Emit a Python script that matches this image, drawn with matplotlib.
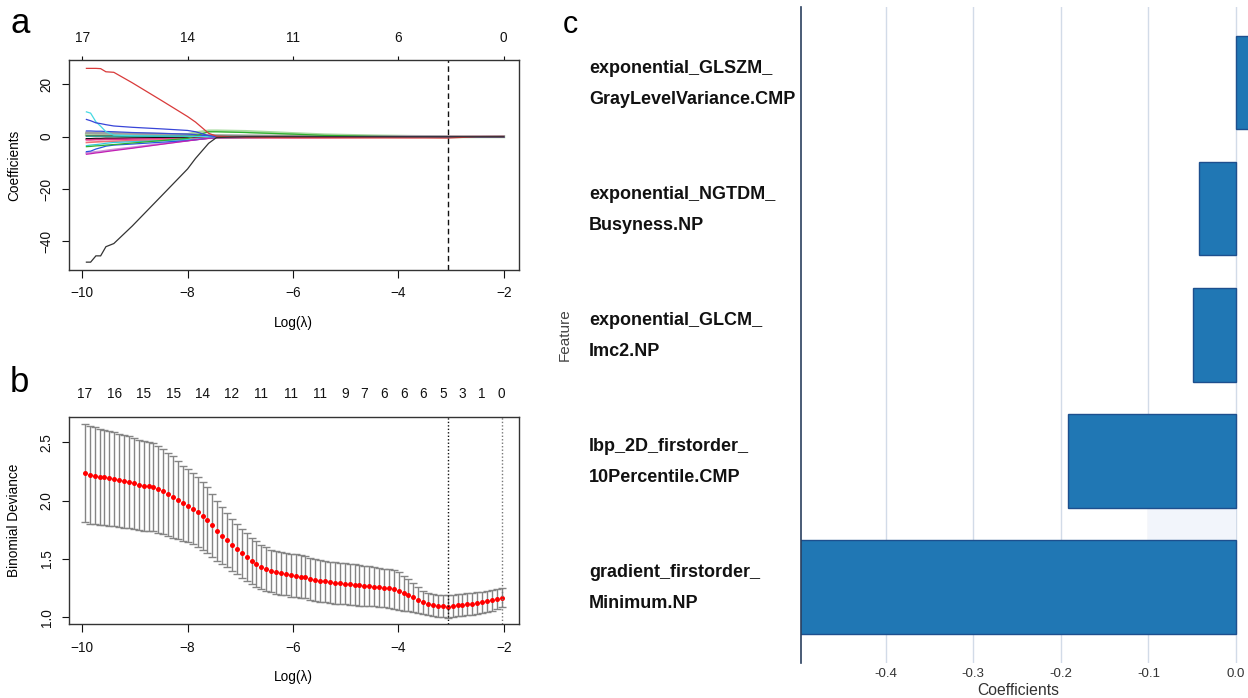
import numpy as np
import matplotlib
matplotlib.use("Agg")
import matplotlib.pyplot as plt
from matplotlib.patches import Rectangle
from matplotlib.transforms import blended_transform_factory, offset_copy

plt.rcParams['font.family'] = ['Liberation Sans', 'DejaVu Sans']

# ---------------- panel a: lasso coefficient paths ----------------
path_knots = [-9.92, -9.84, -9.74, -9.65, -9.55, -9.40, -9.05, -8.50, -8.00, -7.85,
              -7.60, -7.45, -6.90, -6.00, -5.40, -4.50, -3.70, -3.06, -2.50, -2.00]

coef_black_big = [-47.9, -47.9, -45.5, -45.5, -42.0, -40.8, -34.1, -22.7, -12.3, -8.3,
                  -2.5, -0.3, 0, 0, 0, 0, 0, 0, 0, 0]
coef_red_big = [26.1, 26.1, 26.1, 26.0, 24.8, 24.6, 20.6, 13.9, 7.7, 5.6,
                1.3, 0.2, -0.2, -0.3, -0.35, -0.4, -0.45, -0.5, 0, 0]
coef_green = [-3.8, -3.7, -3.5, -3.4, -3.2, -3.0, -2.4, -1.5, -0.6, 0.3,
              1.9, 1.9, 1.6, 1.0, 0.5, 0.2, 0, 0, 0, 0]
coef_blue_up = [6.6, 6.1, 5.3, 5.0, 4.6, 4.1, 3.6, 3.0, 2.4, 1.9,
                0.4, 0, 0, 0, 0, 0, 0, 0, 0, 0]
coef_cyan_up = [9.5, 9.0, 5.7, 4.0, 1.9, 0.6, 0.4, 0.3, 0.2, 0.1,
                0, 0, 0, 0, 0, 0, 0, 0, 0, 0]
coef_magenta = [-6.7, -6.5, -6.2, -6.0, -5.7, -5.3, -4.4, -2.9, -1.6, -1.2,
                -0.6, -0.4, -0.3, -0.2, 0, 0, 0, 0, 0, 0]
coef_plum = [-6.2, -6.0, -5.8, -5.6, -5.3, -4.9, -4.1, -2.7, -1.4, -1.0,
             -0.5, -0.3, -0.2, -0.1, -0.1, 0, 0, 0, 0, 0]
coef_blue_low = [-5.7, -5.5, -4.7, -4.2, -3.6, -3.2, -2.8, -2.1, -1.5, -1.2,
                 -0.6, -0.2, 0, 0, 0, 0, 0, 0, 0, 0]
coef_cyan_low = [-3.4, -3.2, -3.0, -2.8, -2.5, -2.2, -1.9, -1.5, -1.1, -0.9,
                 -0.5, -0.4, -0.3, -0.2, 0, 0, 0, 0, 0, 0]
coef_salmon = [-2.2, -2.1, -2.0, -1.9, -1.8, -1.7, -1.5, -1.2, -0.9, -0.8,
               -0.6, -0.5, -0.4, -0.35, -0.3, -0.3, -0.25, 0, 0, 0]
coef_palegreen = [0.8, 0.8, 0.7, 0.7, 0.6, 0.6, 0.5, 0.4, 0.8, 1.5,
                  2.2, 2.2, 2.0, 1.2, 0.7, 0.3, 0.1, 0, 0, 0]
coef_gray = [1.5, 1.5, 1.4, 1.4, 1.3, 1.3, 1.2, 1.0, 0.8, 0.7,
             0.6, 0.5, 0.4, 0.3, 0.25, 0.2, 0.1, 0.05, 0, 0]
coef_black_small = [-0.8, -0.8, -0.7, -0.7, -0.6, -0.6, -0.5, -0.4, -0.3, -0.3,
                    -0.2, -0.2, -0.15, -0.1, -0.1, -0.1, -0.1, -0.1, -0.05, 0]
coef_brown = [0.4, 0.4, 0.4, 0.4, 0.35, 0.35, 0.3, 0.3, 0.25, 0.2,
              0.2, 0.15, 0.1, 0.1, 0.05, 0, 0, 0, 0, 0]
coef_hotpink = [-1.2, -1.2, -1.1, -1.1, -1.0, -1.0, -0.9, -0.8, -0.7, -0.6,
                -0.5, -0.5, -0.4, -0.4, -0.35, -0.2, -0.1, -0.1, 0, 0]
coef_blue2 = [2.2, 2.2, 2.1, 2.1, 2.0, 1.9, 1.6, 1.3, 1.0, 0.8,
              0.2, 0, 0, 0, 0, 0, 0, 0, 0, 0]
coef_teal = [0.2, 0.2, 0.2, 0.2, 0.2, 0.2, 0.15, 0.15, 0.1, 0.1,
             0.1, 0.1, 0.05, 0.05, 0, 0, 0, 0, 0, 0]

path_list = [
    (coef_palegreen, '#a9dba0', 2.2),
    (coef_gray, '#a0a0a0', 1.8),
    (coef_plum, '#cc8fd6', 1.4),
    (coef_brown, '#8a5a3a', 1.0),
    (coef_teal, '#1fa595', 1.0),
    (coef_black_small, '#111111', 1.2),
    (coef_hotpink, '#e2338c', 1.2),
    (coef_salmon, '#ef6f7a', 1.2),
    (coef_cyan_low, '#33c9dd', 0.9),
    (coef_blue_low, '#2a55e0', 0.9),
    (coef_magenta, '#c21fb4', 0.9),
    (coef_blue2, '#3a4fd6', 0.9),
    (coef_green, '#2fb02f', 0.9),
    (coef_cyan_up, '#45d9e2', 0.9),
    (coef_blue_up, '#3845d8', 0.9),
    (coef_red_big, '#d93a3a', 0.9),
    (coef_black_big, '#333333', 0.9),
]

a_top_pos = [-10, -8, -6, -4, -2]
a_top_labels = ['17', '14', '11', '6', '0']
a_lambda_min = -3.06

# ---------------- panel b: cross-validation curve ----------------
cv_start, cv_end, cv_n = -9.95, -2.04, 86
cv_mean = [2.234, 2.222, 2.213, 2.205, 2.200, 2.191, 2.185, 2.174, 2.165, 2.157,
           2.148, 2.136, 2.128, 2.123, 2.114, 2.097, 2.080, 2.054, 2.031, 2.005,
           1.979, 1.956, 1.931, 1.905, 1.868, 1.831, 1.791, 1.742, 1.699, 1.662,
           1.620, 1.583, 1.548, 1.517, 1.485, 1.457, 1.434, 1.414, 1.397, 1.386,
           1.377, 1.371, 1.362, 1.356, 1.348, 1.343, 1.331, 1.322, 1.314, 1.308,
           1.300, 1.294, 1.291, 1.288, 1.283, 1.279, 1.274, 1.271, 1.266, 1.262,
           1.257, 1.251, 1.248, 1.242, 1.225, 1.205, 1.188, 1.171, 1.148, 1.128,
           1.114, 1.105, 1.099, 1.094, 1.091, 1.097, 1.103, 1.108, 1.114, 1.117,
           1.123, 1.128, 1.137, 1.146, 1.157, 1.168]
cv_se = [0.420, 0.418, 0.415, 0.412, 0.409, 0.406, 0.403, 0.400, 0.397, 0.394,
         0.391, 0.388, 0.385, 0.382, 0.378, 0.373, 0.366, 0.358, 0.348, 0.336,
         0.322, 0.312, 0.304, 0.298, 0.292, 0.282, 0.270, 0.258, 0.246, 0.230,
         0.221, 0.213, 0.210, 0.204, 0.196, 0.193, 0.189, 0.187, 0.184, 0.183,
         0.183, 0.183, 0.184, 0.184, 0.183, 0.181, 0.181, 0.180, 0.180, 0.179,
         0.177, 0.177, 0.177, 0.177, 0.176, 0.174, 0.174, 0.171, 0.170, 0.168,
         0.167, 0.166, 0.167, 0.167, 0.164, 0.147, 0.137, 0.123, 0.110, 0.100,
         0.096, 0.094, 0.093, 0.093, 0.096, 0.094, 0.094, 0.094, 0.094, 0.094,
         0.094, 0.093, 0.091, 0.091, 0.089, 0.083]
b_top_idx = [0, 6, 12, 18, 24, 30, 36, 42, 48, 53, 57, 61, 65, 69, 73, 77, 81, 85]
b_top_labels = ['17', '16', '15', '15', '14', '12', '11', '11', '11',
                '9', '7', '6', '6', '6', '5', '3', '1', '0']

# ---------------- panel c: selected features ----------------
feat_names = ['exponential_GLSZM_\nGrayLevelVariance.CMP',
              'exponential_NGTDM_\nBusyness.NP',
              'exponential_GLCM_\nImc2.NP',
              'lbp_2D_firstorder_\n10Percentile.CMP',
              'gradient_firstorder_\nMinimum.NP']
feat_coef = [0.03, -0.0424, -0.0491, -0.192, -0.52]

# ---------------- figure ----------------
W, H = 1248, 698
fig = plt.figure(figsize=(W / 100, H / 100), dpi=100)


def px_axes(left, top, right, bottom):
    return fig.add_axes([left / W, 1 - bottom / H, (right - left) / W, (bottom - top) / H])


def r_style(ax):
    for s in ax.spines.values():
        s.set_color('#333333')
        s.set_linewidth(1.0)
    ax.tick_params(axis='both', direction='out', length=5.4, width=0.8,
                   labelsize=9.8, colors='#111111')
    ax.tick_params(axis='x', pad=6.3)
    ax.tick_params(axis='y', pad=5.3)
    for lab in ax.get_yticklabels():
        lab.set_rotation(90)
        lab.set_va('center')


# panel a
ax_a = px_axes(68.5, 60, 518.5, 270)
for vals, col, lw in path_list:
    ax_a.plot(path_knots, vals, color=col, lw=lw, solid_joinstyle='miter')
ax_a.axvline(a_lambda_min, color='#111111', ls=(0, (4, 2.5)), lw=1.0)
ax_a.set_xlim(-10.26, -1.72)
ax_a.set_ylim(-50.9, 29.3)
ax_a.set_xticks([-10, -8, -6, -4, -2])
ax_a.set_yticks([-40, -20, 0, 20])
r_style(ax_a)
sec_a = ax_a.secondary_xaxis('top')
sec_a.set_xticks(a_top_pos, labels=a_top_labels)
sec_a.tick_params(length=2.7, width=0.8, labelsize=9.8, pad=8.0, colors='#111111')
sec_a.spines['top'].set_visible(False)

# panel b
ax_b = px_axes(68.5, 416.7, 518.5, 624.3)
grid = np.linspace(cv_start, cv_end, cv_n)
mean = np.array(cv_mean)
se = np.array(cv_se)
ax_b.errorbar(grid, mean, yerr=se, fmt='none', ecolor='#858585',
              elinewidth=1.0, capsize=2.6, capthick=1.0)
ax_b.plot(grid, mean, 'o', color='#ff0000', ms=3.6, mec='#ff0000', mew=0)
i_min = int(np.argmin(mean))
i_1se = int(np.where(mean <= mean[i_min] + se[i_min])[0].max())
ax_b.axvline(grid[i_min], color='#111111', ls=(0, (1, 1.5)), lw=1.0)
ax_b.axvline(grid[i_1se], color='#777777', ls=(0, (1, 1.5)), lw=1.0)
ax_b.set_xlim(-10.26, -1.72)
ax_b.set_ylim(0.94, 2.72)
ax_b.set_xticks([-10, -8, -6, -4, -2])
ax_b.set_yticks([1.0, 1.5, 2.0, 2.5])
ax_b.set_yticklabels(['1.0', '1.5', '2.0', '2.5'])
r_style(ax_b)
sec_b = ax_b.secondary_xaxis('top')
sec_b.set_xticks(grid[b_top_idx], labels=b_top_labels)
sec_b.tick_params(length=0, labelsize=9.8, pad=11.0, colors='#111111')
sec_b.spines['top'].set_visible(False)

for y in (322.7, 677.3):
    fig.text(293.5 / W, 1 - y / H, 'Log(\u03bb)', ha='center', va='center', fontsize=9.8)
fig.text(14.2 / W, 1 - 165 / H, 'Coefficients', rotation=90, ha='center', va='center', fontsize=9.8)
fig.text(14.2 / W, 1 - 520.5 / H, 'Binomial Deviance', rotation=90, ha='center', va='center', fontsize=9.8)
fig.text(20.3 / W, 1 - 33.3 / H, 'a', ha='center', va='baseline', fontsize=25)
fig.text(19.8 / W, 1 - 392 / H, 'b', ha='center', va='baseline', fontsize=25)

# panel c
ax_c = px_axes(801, 6.7, 1248, 662.7)
ypos = np.arange(len(feat_names))
bar_h = 0.742
ax_c.barh(ypos, feat_coef, height=bar_h, color='#2077b4', edgecolor='#1d4f8e', lw=1.0, zorder=2)
# faint highlight band seen between the two lowest bars
ax_c.add_patch(Rectangle((-0.1, ypos[3] + bar_h / 2), 0.1, ypos[4] - ypos[3] - bar_h,
                         color='#f2f5fb', lw=0, zorder=1))
ax_c.set_xlim(-0.4965, 0.0137)
ax_c.set_ylim(4.6, -0.6)
ax_c.set_xticks([-0.4, -0.3, -0.2, -0.1, 0.0])
ax_c.set_xticklabels(['-0.4', '-0.3', '-0.2', '-0.1', '0.0'])
ax_c.set_yticks([])
ax_c.xaxis.grid(True, color='#d2dbe8', lw=1.0)
ax_c.set_axisbelow(True)
for side in ('top', 'right', 'bottom'):
    ax_c.spines[side].set_visible(False)
ax_c.spines['left'].set_color('#2a3f5f')
ax_c.spines['left'].set_linewidth(1.2)
ax_c.tick_params(axis='x', length=0, labelsize=9.5, pad=4.0, colors='#333333')

trans = blended_transform_factory(fig.transFigure, ax_c.transData)
for y, name in zip(ypos, feat_names):
    first, second = name.split('\n')
    fig.text(588.8 / W, y, first, transform=offset_copy(trans, fig=fig, y=14.2, units='dots'),
             ha='left', va='center', fontsize=13, fontweight='bold', color='#111111')
    fig.text(588.8 / W, y, second, transform=offset_copy(trans, fig=fig, y=-16.8, units='dots'),
             ha='left', va='center', fontsize=13, fontweight='bold', color='#111111')

fig.text(564.8 / W, 1 - 335 / H, 'Feature', rotation=90, ha='center', va='center',
         fontsize=11, color='#444444')
fig.text(1018 / W, 1 - 690.7 / H, 'Coefficients', ha='center', va='center',
         fontsize=11.3, color='#333333')
fig.text(570.5 / W, 1 - 32.7 / H, 'c', ha='center', va='baseline', fontsize=22)

fig.savefig('out.png', dpi=100)
